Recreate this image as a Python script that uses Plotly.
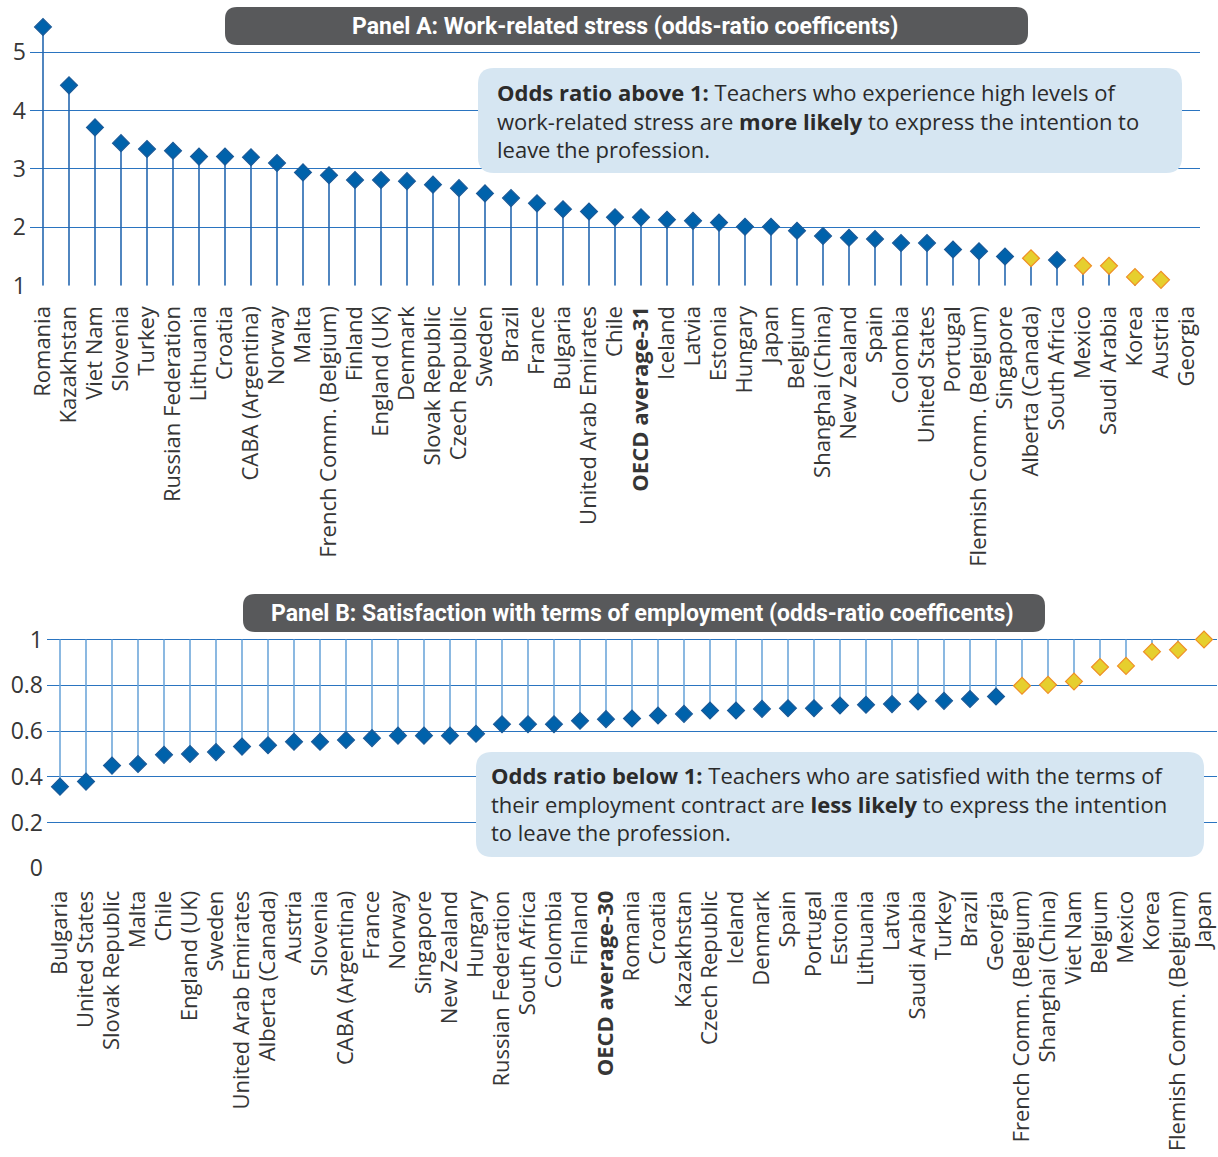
import plotly.graph_objects as go

# ---------------- Data ----------------
cats_a = ["Romania", "Kazakhstan", "Viet Nam", "Slovenia", "Turkey", "Russian Federation",
          "Lithuania", "Croatia", "CABA (Argentina)", "Norway", "Malta", "French Comm. (Belgium)",
          "Finland", "England (UK)", "Denmark", "Slovak Republic", "Czech Republic", "Sweden",
          "Brazil", "France", "Bulgaria", "United Arab Emirates", "Chile", "OECD average-31",
          "Iceland", "Latvia", "Estonia", "Hungary", "Japan", "Belgium", "Shanghai (China)",
          "New Zealand", "Spain", "Colombia", "United States", "Portugal",
          "Flemish Comm. (Belgium)", "Singapore", "Alberta (Canada)", "South Africa", "Mexico",
          "Saudi Arabia", "Korea", "Austria", "Georgia"]
vals_a = [5.43, 4.43, 3.71, 3.44, 3.34, 3.31, 3.21, 3.21, 3.20, 3.10, 2.94, 2.89, 2.81, 2.81,
          2.79, 2.73, 2.67, 2.58, 2.50, 2.41, 2.31, 2.27, 2.17, 2.17, 2.13, 2.11, 2.08, 2.01,
          2.01, 1.94, 1.85, 1.82, 1.80, 1.73, 1.73, 1.62, 1.59, 1.50, 1.47, 1.44, 1.34, 1.34,
          1.15, 1.10, None]
# not statistically significant (yellow marker)
nonsig_a = ["Alberta (Canada)", "Mexico", "Saudi Arabia", "Korea", "Austria"]

cats_b = ["Bulgaria", "United States", "Slovak Republic", "Malta", "Chile", "England (UK)",
          "Sweden", "United Arab Emirates", "Alberta (Canada)", "Austria", "Slovenia",
          "CABA (Argentina)", "France", "Norway", "Singapore", "New Zealand", "Hungary",
          "Russian Federation", "South Africa", "Colombia", "Finland", "OECD average-30",
          "Romania", "Croatia", "Kazakhstan", "Czech Republic", "Iceland", "Denmark", "Spain",
          "Portugal", "Estonia", "Lithuania", "Latvia", "Saudi Arabia", "Turkey", "Brazil",
          "Georgia", "French Comm. (Belgium)", "Shanghai (China)", "Viet Nam", "Belgium",
          "Mexico", "Korea", "Flemish Comm. (Belgium)", "Japan"]
vals_b = [0.357, 0.379, 0.449, 0.456, 0.496, 0.500, 0.508, 0.532, 0.538, 0.553, 0.553, 0.561,
          0.569, 0.580, 0.580, 0.580, 0.588, 0.630, 0.630, 0.630, 0.645, 0.652, 0.655, 0.668,
          0.675, 0.690, 0.690, 0.697, 0.700, 0.700, 0.712, 0.715, 0.718, 0.729, 0.732, 0.740,
          0.751, 0.798, 0.802, 0.817, 0.880, 0.885, 0.947, 0.955, 1.000]
nonsig_b = ["French Comm. (Belgium)", "Shanghai (China)", "Viet Nam", "Belgium", "Mexico",
            "Korea", "Flemish Comm. (Belgium)", "Japan"]

yticks_a = [1, 2, 3, 4, 5]
yticks_b = [0, 0.2, 0.4, 0.6, 0.8, 1]
yticktext_b = ["0", "0.2", "0.4", "0.6", "0.8", "1"]

title_a = "Panel A: Work-related stress (odds-ratio coefficents)"
title_b = "Panel B: Satisfaction with terms of employment (odds-ratio coefficents)"
note_a = ["<b>Odds ratio above 1:</b> Teachers who experience high levels of",
          "work-related stress are <b>more likely</b> to express the intention to",
          "leave the profession."]
note_b = ["<b>Odds ratio below 1:</b> Teachers who are satisfied with the terms of",
          "their employment contract are <b>less likely</b> to express the intention",
          "to leave the profession."]

# ---------------- Style ----------------
W, H = 1218, 1157
BLUE = "#0062ab"
BLUE_EDGE = "#1b5a98"
YEL = "#e6cf2e"
YEL_EDGE = "#ef8f25"
GRID = "#2a74c0"
STEM_A = "#2567b0"
STEM_B = "#6fa7da"
FONT = "Open Sans"
TXT = "#363636"


def px(x):
    return x / W


def py(y):
    return 1 - y / H


def label(c):
    return f"<b>{c}</b>" if c.startswith("OECD") else c


def stems(cats, vals, base):
    xs, ys = [], []
    for c, v in zip(cats, vals):
        if v is None:
            continue
        xs += [c, c, None]
        ys += [base, v, None]
    return xs, ys


def round_rect(x0, y0, x1, y1, r):
    def P(x, y):
        return f"{px(x):.5f},{py(y):.5f}"
    return (f"M {P(x0 + r, y0)} L {P(x1 - r, y0)} Q {P(x1, y0)} {P(x1, y0 + r)} "
            f"L {P(x1, y1 - r)} Q {P(x1, y1)} {P(x1 - r, y1)} L {P(x0 + r, y1)} "
            f"Q {P(x0, y1)} {P(x0, y1 - r)} L {P(x0, y0 + r)} Q {P(x0, y0)} {P(x0 + r, y0)} Z")


fig = go.Figure()

# Panel A
sx, sy = stems(cats_a, vals_a, 1)
fig.add_trace(go.Scatter(x=sx, y=sy, mode="lines", line=dict(color=STEM_A, width=1.6),
                         xaxis="x", yaxis="y", hoverinfo="skip", showlegend=False))
fig.add_trace(go.Scatter(
    x=cats_a, y=vals_a, mode="markers", xaxis="x", yaxis="y", showlegend=False, cliponaxis=False,
    marker=dict(symbol="diamond", size=13,
                color=[YEL if c in nonsig_a else BLUE for c in cats_a],
                line=dict(width=1.2, color=[YEL_EDGE if c in nonsig_a else BLUE_EDGE for c in cats_a]))))

# Panel B
sx, sy = stems(cats_b, vals_b, 1)
fig.add_trace(go.Scatter(x=sx, y=sy, mode="lines", line=dict(color=STEM_B, width=1.6),
                         xaxis="x2", yaxis="y2", hoverinfo="skip", showlegend=False))
fig.add_trace(go.Scatter(
    x=cats_b, y=vals_b, mode="markers", xaxis="x2", yaxis="y2", showlegend=False, cliponaxis=False,
    marker=dict(symbol="diamond", size=13,
                color=[YEL if c in nonsig_b else BLUE for c in cats_b],
                line=dict(width=1.2, color=[YEL_EDGE if c in nonsig_b else BLUE_EDGE for c in cats_b]))))

common_x = dict(type="category", showgrid=False, showline=False, ticks="",
                tickangle=-90, tickfont=dict(family=FONT, size=22, color=TXT),
                automargin=False, fixedrange=True)
common_y = dict(showgrid=True, gridcolor=GRID, gridwidth=1.3, zeroline=False, showline=False,
                ticks="", tickfont=dict(family=FONT, size=23, color=TXT), automargin=False,
                ticklabelstandoff=3, fixedrange=True)

fig.update_layout(
    width=W, height=H, margin=dict(l=0, r=0, t=0, b=0),
    paper_bgcolor="white", plot_bgcolor="white",
    xaxis=dict(domain=[px(30), px(1200)], range=[-0.5, len(cats_a) - 0.5], anchor="y",
               tickvals=cats_a, ticktext=[label(c) for c in cats_a], ticklabelstandoff=15,
               **common_x),
    yaxis=dict(domain=[py(285.7), py(17)], range=[1, 5.6], tickvals=yticks_a, anchor="x",
               **common_y),
    xaxis2=dict(domain=[px(47), px(1217)], range=[-0.5, len(cats_b) - 0.5], anchor="y2",
                tickvals=cats_b, ticktext=[label(c) for c in cats_b], ticklabelstandoff=17,
                **common_x),
    yaxis2=dict(domain=[py(868.3), py(635)], range=[0, 1.02], tickvals=yticks_b,
                ticktext=yticktext_b, anchor="x2", **common_y),
)

shapes = [
    dict(type="path", xref="paper", yref="paper", path=round_rect(225, 7, 1028, 45, 12),
         fillcolor="#58595b", line=dict(width=0), layer="above"),
    dict(type="path", xref="paper", yref="paper", path=round_rect(243, 594, 1045, 632, 12),
         fillcolor="#58595b", line=dict(width=0), layer="above"),
    dict(type="path", xref="paper", yref="paper", path=round_rect(478, 68, 1182, 173, 16),
         fillcolor="#d6e6f2", line=dict(width=0), layer="above"),
    dict(type="path", xref="paper", yref="paper", path=round_rect(476, 752, 1204, 857, 16),
         fillcolor="#d6e6f2", line=dict(width=0), layer="above"),
]
fig.update_layout(shapes=shapes)

TITLE_FONT = dict(family="Roboto", size=23, color="white")
fig.add_annotation(xref="paper", yref="paper", x=px(625), y=py(26), text=f"<b>{title_a}</b>",
                   showarrow=False, font=TITLE_FONT, xanchor="center", yanchor="middle")
fig.add_annotation(xref="paper", yref="paper", x=px(642), y=py(613), text=f"<b>{title_b}</b>",
                   showarrow=False, font=TITLE_FONT, xanchor="center", yanchor="middle")

NOTE_FONT = dict(family=FONT, size=22, color="#2b2b2b")
fig.add_annotation(xref="paper", yref="paper", x=px(495), y=py(120.5), text="<br>".join(note_a),
                   showarrow=False, font=NOTE_FONT, xanchor="left", yanchor="middle",
                   align="left")
fig.add_annotation(xref="paper", yref="paper", x=px(489), y=py(803.5), text="<br>".join(note_b),
                   showarrow=False, font=NOTE_FONT, xanchor="left", yanchor="middle",
                   align="left")

fig.write_html("out.html", config={"displayModeBar": False},
               post_script="document.body.style.margin='0px';")
